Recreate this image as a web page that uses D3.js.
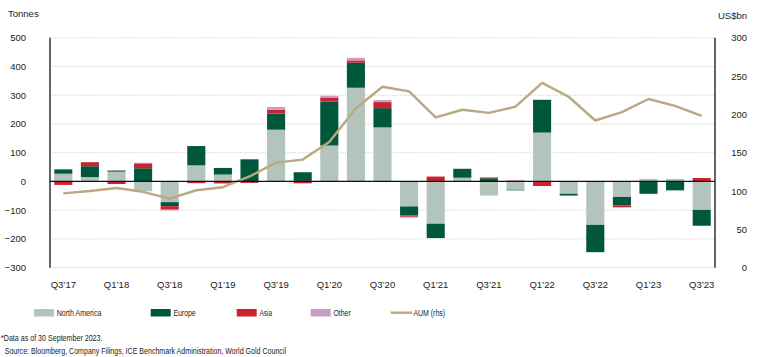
<!DOCTYPE html>
<html>
<head>
<meta charset="utf-8">
<script src="https://cdn.jsdelivr.net/npm/d3@7"></script>
<style>
  body { margin: 0; background: #fff; }
  svg { display: block; }
  .ax text { font-family: "Liberation Sans", Arial, sans-serif; font-size: 9.5px; fill: #222; }
  .lg text, .fn { font-family: "Liberation Sans", Arial, sans-serif; fill: #222; }
</style>
</head>
<body>
<svg id="chart" width="758" height="357"></svg>
<script>
const quarters = ["Q3’17","Q4’17","Q1’18","Q2’18","Q3’18","Q4’18","Q1’19","Q2’19","Q3’19","Q4’19",
  "Q1’20","Q2’20","Q3’20","Q4’20","Q1’21","Q2’21","Q3’21","Q4’21","Q1’22","Q2’22",
  "Q3’22","Q4’22","Q1’23","Q2’23","Q3’23"];
const northAmerica = [27, 15, 34, -34, -72, 56, 24, 0, 180, 2, 125, 326, 188, -87, -147, 13, -49, -29, 170, -43, -151, -54, 9, 9, -99];
const europe       = [15, 38, 4, 46, -14, 67, 23, 77, 56, 30, 153, 87, 67, -31, -50, 31, 11, -2, 114, -6, -95, -29, -43, -31, -55];
const asia         = [-12, 14, -9, 17, -12, -6, -7, -5, 14, -6, 14, 8, 21, -5, 17, 0, 3, 3, -16, 0, 0, -7, 0, 0, 12];
const other        = [0, 0, 0, 2, -3, 0, 0, 0, 9, -2, 6, 9, 7, -3, 0, 0, 0, 0, 0, 0, 0, 0, 0, 0, 0];
const aum          = [97, 100, 104, 99, 90, 101, 105, 119, 137, 141, 164, 208, 236, 230, 196, 206, 202, 210, 241, 223, 192, 203, 220, 211, 198];
const xTickLabels  = ["Q3’17","Q1’18","Q3’18","Q1’19","Q3’19","Q1’20","Q3’20","Q1’21","Q3’21","Q1’22","Q3’22","Q1’23","Q3’23"];
const leftTicks  = [500, 400, 300, 200, 100, 0, -100, -200, -300];
const rightTicks = [300, 250, 200, 150, 100, 50, 0];

const seriesNames = ["North America", "Europe", "Asia", "Other"];
const colors = { "North America": "#b3c4bc", "Europe": "#00573b", "Asia": "#cc2131", "Other": "#c79fc3" };
const lineColor = "#b8a981";

const svg = d3.select("#chart");
const L = 50, R = 715, T = 37.7, B = 267.7;

const x = d3.scaleBand().domain(quarters).range([L, R]).paddingInner(0.32).paddingOuter(0.16);
const y = d3.scaleLinear().domain([-300, 500]).range([B, T]);
const y2 = d3.scaleLinear().domain([0, 300]).range([B, T]);

// gridlines
svg.append("g").selectAll("line").data(leftTicks).join("line")
  .attr("x1", L).attr("x2", R).attr("y1", d => y(d)).attr("y2", d => y(d))
  .attr("stroke", "#b8b8b8").attr("stroke-width", 0.8).attr("stroke-dasharray", "1,1.5");

// stacked bars
const table = quarters.map((q, i) => ({ q, "North America": northAmerica[i], "Europe": europe[i], "Asia": asia[i], "Other": other[i] }));
const stack = d3.stack().keys(seriesNames).offset(d3.stackOffsetDiverging);
const layers = stack(table);

svg.append("g").selectAll("g").data(layers).join("g")
  .attr("fill", d => colors[d.key])
  .selectAll("rect").data(d => d).join("rect")
  .attr("x", d => x(d.data.q))
  .attr("width", x.bandwidth())
  .attr("y", d => y(Math.max(d[0], d[1])))
  .attr("height", d => Math.abs(y(d[0]) - y(d[1])));

// AUM line
svg.append("path")
  .datum(aum)
  .attr("fill", "none").attr("stroke", lineColor).attr("stroke-width", 2.4)
  .attr("stroke-linejoin", "round")
  .attr("d", d3.line().x((d, i) => x(quarters[i]) + x.bandwidth() / 2).y(d => y2(d)));

// zero line and axis lines
svg.append("line").attr("x1", L).attr("x2", R).attr("y1", y(0)).attr("y2", y(0)).attr("stroke", "#111").attr("stroke-width", 1.2);
svg.append("line").attr("x1", L).attr("x2", L).attr("y1", T).attr("y2", B).attr("stroke", "#111").attr("stroke-width", 1.3);
svg.append("line").attr("x1", R).attr("x2", R).attr("y1", T).attr("y2", B).attr("stroke", "#111").attr("stroke-width", 1.3);

// axes (labels only)
const gl = svg.append("g").attr("class", "ax").attr("transform", `translate(${L},0)`)
  .call(d3.axisLeft(y).tickValues(leftTicks).tickSize(0).tickPadding(24));
gl.select(".domain").remove();
const gr = svg.append("g").attr("class", "ax").attr("transform", `translate(747,0)`)
  .call(d3.axisLeft(y2).tickValues(rightTicks).tickSize(0).tickPadding(0));
gr.select(".domain").remove();
const gx = svg.append("g").attr("class", "ax").attr("transform", `translate(0,${B})`)
  .call(d3.axisBottom(x).tickValues(xTickLabels).tickSize(0).tickPadding(14));
gx.select(".domain").remove();
svg.selectAll(".ax text").attr("fill", "#222");

svg.append("text").attr("x", 8).attr("y", 17)
  .style("font-family", "Liberation Sans, Arial, sans-serif").style("font-size", "9.5px").attr("fill", "#222").text("Tonnes");
svg.append("text").attr("x", 747).attr("y", 18.5).attr("text-anchor", "end")
  .style("font-family", "Liberation Sans, Arial, sans-serif").style("font-size", "9.5px").attr("fill", "#222").text("US$bn");

// legend
const legendItems = [
  { name: "North America", type: "rect", x: 34, w: 44.7 },
  { name: "Europe", type: "rect", x: 150.7, w: 22.3 },
  { name: "Asia", type: "rect", x: 236.7, w: 12.6 },
  { name: "Other", type: "rect", x: 310.7, w: 17.3 },
  { name: "AUM (rhs)", type: "line", x: 390.7, w: 31.7 }
];
const lg = svg.append("g").attr("class", "lg");
legendItems.forEach(it => {
  if (it.type === "rect") {
    lg.append("rect").attr("x", it.x).attr("y", 309).attr("width", 20).attr("height", 7.5).attr("fill", colors[it.name]);
  } else {
    lg.append("line").attr("x1", it.x).attr("x2", it.x + 21.5).attr("y1", 312.7).attr("y2", 312.7)
      .attr("stroke", lineColor).attr("stroke-width", 2.4);
  }
  lg.append("text").attr("x", it.x + 22.7).attr("y", 316.2).style("font-size", "9.2px")
    .attr("textLength", it.w).attr("lengthAdjust", "spacingAndGlyphs").text(it.name);
});

// footnotes
svg.append("text").attr("class", "fn").attr("x", 1).attr("y", 341.2).style("font-size", "9px")
  .attr("textLength", 101.5).attr("lengthAdjust", "spacingAndGlyphs").text("*Data as of 30 September 2023.");
svg.append("text").attr("class", "fn").attr("x", 4.7).attr("y", 353.5).style("font-size", "9px")
  .attr("textLength", 281.3).attr("lengthAdjust", "spacingAndGlyphs")
  .text("Source: Bloomberg, Company Filings, ICE Benchmark Administration, World Gold Council");
</script>
</body>
</html>
